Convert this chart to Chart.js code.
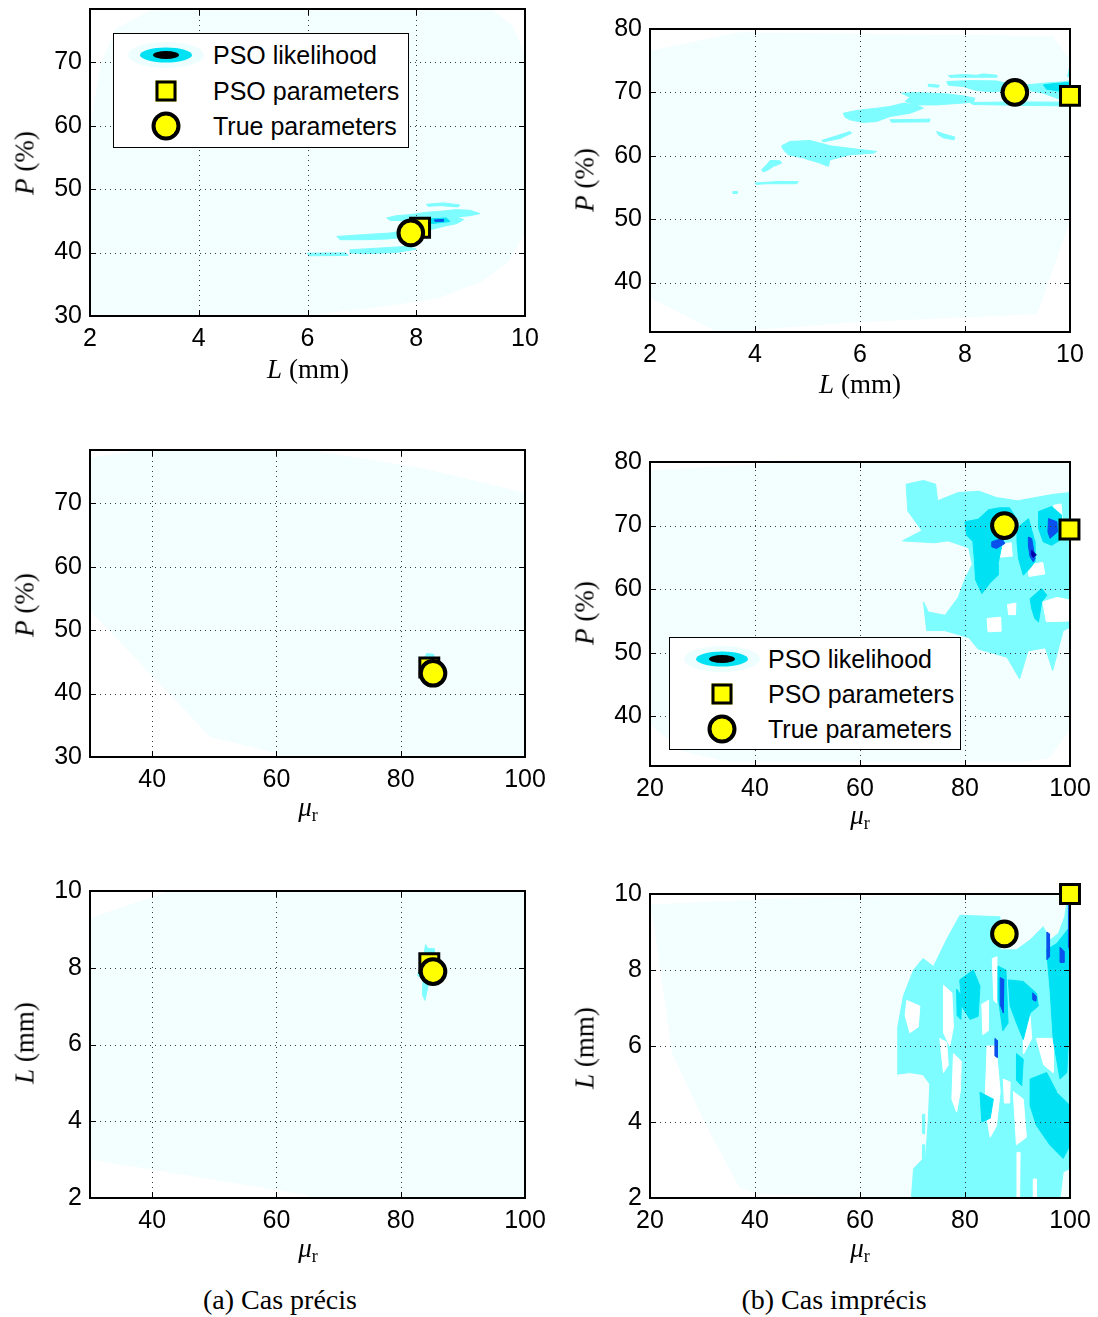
<!DOCTYPE html>
<html><head><meta charset="utf-8">
<script src="https://cdn.jsdelivr.net/npm/chart.js@4.4.1/dist/chart.umd.min.js"></script>
<style>
html,body{margin:0;padding:0;background:#fff;}
body{width:1098px;height:1317px;position:relative;overflow:hidden;font-family:"Liberation Sans",Arial,sans-serif;}
.t{position:absolute;font-family:"Liberation Serif","Times New Roman",serif;font-size:27px;color:#000;white-space:nowrap;transform:translate(-50%,-50%);z-index:4;}
.ty{transform:translate(-50%,-50%) rotate(-90deg);}
.cap{font-size:28px;}
.sub{font-size:18px;position:relative;top:5px;font-style:normal;}
.legbox{position:absolute;box-sizing:border-box;border:1.5px solid #000;background:#fff;z-index:5;}
.lt{position:absolute;font-family:"Liberation Sans",Arial,sans-serif;font-size:25px;color:#000;white-space:nowrap;transform:translateY(-50%);z-index:6;line-height:30px;}
.ls{position:absolute;z-index:6;transform:translate(-50%,-50%);box-sizing:border-box;}
</style>
</head><body>
<script>
// ---------- tick labels ----------
const xTicksL = [2, 4, 6, 8, 10];
const yTicksP1 = [30, 40, 50, 60, 70];
const yTicksP2 = [40, 50, 60, 70, 80];
const xTicksMuA = [40, 60, 80, 100];
const xTicksMuB = [20, 40, 60, 80, 100];
const yTicksL = [2, 4, 6, 8, 10];

// ---------- marker values [x, y] ----------
const p1Pso = [8.07, 43.9],  p1True = [7.9, 43.1];
const p2Pso = [10.0, 69.45], p2True = [8.95, 70.0];
const p3Pso = [84.6, 44.1],  p3True = [85.2, 43.2];
const p4Pso = [99.9, 69.4],  p4True = [87.5, 70.0];
const p5Pso = [84.6, 8.12],  p5True = [85.2, 7.9];
const p6Pso = [100.0, 10.0], p6True = [87.5, 8.95];

// ---------- likelihood contour regions (data coordinates) ----------
const p1Pale = [[[2,30],[5.9,30],[6.6,30.8],[7.6,31.8],[8.44,33.0],[9.2,35.5],[9.67,38.4],[9.96,42.5],[10,43],[10,71],[9.76,75.7],[9.37,78.4],[3.37,78.4],[3.05,77.8],[2.47,75.2],[2.2,69.4],[2.05,62],[2,60]]];
const p1Light = [
 [[7.46,45.46],[7.64,45.82],[7.89,45.98],[8.19,46.35],[8.44,46.5],[8.74,46.77],[8.99,46.66],[9.17,46.14],[8.99,45.82],[8.74,45.61],[8.87,45.19],[8.74,44.56],[8.5,44.13],[8.25,43.6],[8.07,43.34],[7.95,43.87],[8.0,44.67],[7.76,45.03],[7.52,45.08]],
 [[8.19,47.61],[8.5,47.83],[8.8,47.51],[8.77,47.2],[8.44,47.41],[8.22,47.3]],
 [[6.54,42.55],[7.03,42.82],[7.52,43.08],[7.82,43.5],[7.95,43.08],[7.82,42.45],[7.46,42.13],[7.03,42.03],[6.6,42.03]],
 [[6.78,40.44],[7.33,40.71],[7.82,40.97],[8.0,40.55],[7.64,40.02],[7.03,39.81],[6.78,39.92]],
 [[6.0,39.9],[6.7,39.95],[6.75,39.55],[6.02,39.5]]
];
const p1Med = [[[8.25,45.3],[8.55,45.45],[8.62,44.9],[8.3,44.6],[8.15,44.9]]];
const p1Dark = [[[8.33,45.15],[8.5,45.2],[8.5,44.95],[8.35,44.9]]];

const p2Pale = [[[2,37.7],[2,76.5],[3.7,79.4],[9.67,78.8],[10,75],[10,50],[9.37,35.1],[5.9,33.8],[3.3,32.2]]];
const p2Light = [
 [[7.683,72.65],[7.968,72.81],[8.222,72.70],[8.349,72.91],[8.603,72.70],[8.603,72.39],[7.968,72.39],[7.714,72.39]],
 [[7.651,71.71],[8.095,71.86],[8.603,71.81],[8.794,71.44],[8.794,70.39],[8.54,70.08],[8.222,70.29],[7.968,70.92],[7.683,71.13]],
 [[7.302,71.29],[7.511,71.13],[7.492,70.81],[7.314,70.92]],
 [[9.175,71.18],[9.619,71.55],[9.873,71.65],[10.0,71.86],[10.0,68.56],[9.81,68.92],[9.492,69.87],[9.238,70.29]],
 [[8.095,68.4],[8.921,68.5],[10,68.45],[10,67.87],[8.921,67.98],[8.159,68.09]],
 [[6.794,69.87],[7.079,69.97],[7.333,69.87],[7.651,69.76],[7.968,69.45],[8.19,69.08],[8.159,68.45],[7.905,68.29],[7.46,68.03],[7.079,68.03],[6.857,68.56],[6.952,69.24]],
 [[5.683,66.72],[5.937,67.14],[6.317,67.51],[6.571,67.77],[6.825,68.29],[7.079,68.03],[7.206,67.51],[6.952,66.72],[6.571,66.2],[6.317,65.41],[6.063,65.25],[5.81,65.67],[5.714,66.09]],
 [[6.571,65.67],[7.333,65.78],[7.321,65.35],[6.603,65.3]],
 [[5.27,62.41],[5.556,63.15],[5.81,63.83],[5.841,63.57],[5.619,62.73],[5.302,62.2]],
 [[7.46,63.83],[7.587,63.46],[7.81,62.94],[7.79,62.52],[7.587,62.83],[7.492,63.31]],
 [[4.508,61.57],[4.667,62.26],[5.048,62.41],[5.429,61.57],[5.937,61.05],[6.317,60.68],[6.254,60.42],[5.81,60.16],[5.429,59.37],[5.397,58.32],[5.238,58.85],[4.921,59.63],[4.635,60.16],[4.54,60.94]],
 [[4.127,57.79],[4.222,58.58],[4.286,59.26],[4.476,59.21],[4.508,58.85],[4.349,58.32],[4.254,57.79],[4.159,57.43]],
 [[4.0,55.7],[4.476,55.96],[4.825,55.91],[4.794,55.59],[4.222,55.59],[4.02,55.49]],
 [[3.58,54.35],[3.66,54.35],[3.66,54.05],[3.58,54.05]],
 [[9.95,72.49],[9.99,73.8],[10,74.49],[10,72.49]]
];
const p2Med = [[[9.492,71.18],[9.746,71.44],[10,71.55],[10,70.13],[9.873,70.13],[9.556,70.5]]];

const p3Pale = [[[30,53.2],[30,77.1],[39.2,78.4],[64.6,78.4],[83.2,75.5],[100,71.6],[100,30],[60.5,30],[59.5,30.8],[49.4,33.2],[39.2,43.7]]];
const p3Light = [[[83.6,45.3],[84.2,46.3],[85.2,46.2],[85.3,44.5],[84,43.0],[83.6,43.9]]];

const p4Pale = [[[20,38.8],[20,78.6],[47.5,79.9],[100,79.9],[100,38],[96,33.5],[92,33.0],[34.2,33.0],[26.2,34.6]]];
const p4Light = [[[68.1,67.6],[71.8,69.2],[69.1,72.3],[68.8,76.5],[72.1,77.1],[74.4,76.5],[74.8,73.9],[78.7,75.2],[82.7,75.4],[86.0,74.4],[90.0,73.9],[93.4,74.4],[96.7,74.9],[100,75.2],[100,54.0],[98.7,53.5],[96.7,47.2],[95.3,50.8],[92.0,50.3],[90.4,45.9],[88.0,49.3],[82.5,50.6],[80.7,52.4],[76.1,53.5],[72.7,53.5],[72.1,58.0],[73.0,56.4],[76.2,55.9],[78.7,58.7],[80.1,61.8],[81.4,63.9],[80.7,66.5],[76.8,67.6],[74.1,67.3]]];
const p4Holes = [
 [[85.9,67.0],[88.8,67.3],[89.0,65.2],[86.0,65.0]],
 [[91.9,63.8],[94.8,64.2],[95.2,62.4],[92.2,62.0]],
 [[94.8,58.0],[97.5,58.7],[100,58.3],[100,55.0],[95.5,54.9]],
 [[84.2,55.4],[86.8,55.6],[86.9,53.4],[84.4,53.3]],
 [[88.1,57.6],[89.7,57.8],[89.6,56.0],[88.3,56.0]],
 [[96.9,73.2],[98.3,73.4],[98.5,71.2],[97.1,71.0]]
];
const p4Med = [
 [[80.0,70.6],[82.5,71.0],[84.5,72.5],[86.5,72.8],[88.5,72.8],[89.5,71.5],[88.6,68.5],[87.2,67.6],[86.3,64.0],[86.3,62.2],[84.8,61.0],[83.2,59.3],[82.0,61.5],[81.8,64.5],[81.5,67.5],[80.3,68.5]],
 [[89.9,69.6],[92.1,71.1],[93.3,67.5],[93.3,64.3],[92.4,63.3],[91.1,62.2],[90.2,64.8],[89.9,67.5]],
 [[94.0,72.2],[96.5,73.0],[98.4,71.65],[98.1,67.7],[96.5,66.9],[94.9,67.45],[94.0,69.55]],
 [[92.4,58.5],[94.6,60.1],[95.6,59.05],[94.6,58.0],[94.0,54.85],[93.3,55.4],[92.7,56.95]]
];
const p4Dark = [
 [[85.1,67.45],[87.0,67.97],[87.6,67.2],[86.0,66.4],[85.1,66.66]],
 [[92.07,68.2],[92.7,67.97],[93.34,64.8],[93.0,64.3],[92.4,65.1],[92.07,66.9]],
 [[95.9,71.1],[97.5,70.6],[97.6,69.0],[96.2,68.0],[95.8,69.0]]
];
const p4Darkest = [[[92.7,66.1],[93.6,65.4],[93.0,65.0],[92.6,65.5]]];

const p5Pale = [[[30,3.02],[30,9.28],[43.1,10],[100,10],[100,2],[66.3,2],[64.6,2.1]]];
const p5Light = [[[83.6,8.2],[84.0,8.6],[84.4,8.5],[85.4,8.5],[85.6,8.0],[84.5,7.6],[83.9,7.15],[83.5,7.3],[83.6,7.7],[82.7,7.8]]];

const p6Pale = [[[20,9.71],[47.5,9.89],[100,10],[100,2],[58.8,2.0],[40.9,2.13],[37.2,2.26],[30.9,3.88],[24.3,5.81],[20.9,9.14]]];
const p6Light = [
 [[69.8,2.0],[70.2,2.77],[72.5,3.1],[73.0,4.0],[73.3,5.0],[72.0,5.25],[69.5,5.3],[67.1,5.26],[67.2,6.5],[68.25,7.31],[70.2,8.0],[72.0,8.3],[74.0,8.09],[76.5,8.8],[79.04,9.44],[86.66,9.4],[86.7,8.53],[89.8,8.53],[92.4,8.79],[94.9,9.14],[96.2,8.79],[97.8,8.96],[99.0,9.4],[99.6,9.95],[100,10],[100,2.77],[98.7,2.69],[98.1,2.0]],
 [[71.9,4.2],[72.3,4.2],[72.3,3.7],[71.9,3.7]],
 [[71.9,3.4],[72.3,3.4],[72.3,3.0],[71.9,3.0]]
];
const p6Holes = [
 [[68.9,7.2],[71.4,7.05],[71.1,6.5],[69.5,6.35],[68.6,6.8]],
 [[75.9,7.6],[77.5,7.4],[77.8,6.5],[77.1,6.0],[75.9,6.35]],
 [[75.2,6.2],[76.5,6.1],[76.8,5.5],[75.9,5.3]],
 [[77.8,5.8],[79.3,5.6],[79.1,4.8],[78.4,4.26],[77.5,4.6]],
 [[83.2,7.1],[84.5,7.2],[84.4,6.4],[83.4,6.3]],
 [[84.2,6.0],[85.9,6.0],[86.7,4.8],[86.0,3.9],[84.8,3.6],[83.8,4.4]],
 [[87.3,5.13],[88.6,5.05],[88.5,4.5],[87.5,4.5]],
 [[91.1,6.7],[92.4,6.8],[92.7,6.2],[91.2,5.8]],
 [[93.6,6.2],[96.8,6.2],[96.8,5.3],[95.0,5.5]],
 [[89.2,4.8],[91.1,4.6],[91.7,3.6],[89.8,3.4]],
 [[89.9,3.2],[90.5,3.2],[90.4,2.0],[89.8,2.0]],
 [[93.0,2.5],[93.6,2.5],[93.6,2.0],[93.0,2.0]],
 [[97.5,4.8],[98.7,4.6],[98.7,3.8],[97.8,3.6]],
 [[85.2,8.3],[86.1,8.35],[86.0,7.13],[85.5,7.2]]
];
const p6Med = [
 [[79.0,7.74],[81.6,8.0],[82.85,7.57],[82.5,6.78],[80.95,6.7],[79.4,7.05]],
 [[86.3,8.1],[87.8,8.0],[88.2,6.6],[87.2,6.4],[86.4,7.2]],
 [[88.25,7.74],[91.1,7.7],[93.6,7.39],[93.97,7.05],[92.4,6.87],[91.1,6.17],[89.8,6.61],[88.6,7.05]],
 [[95.55,8.53],[97.5,8.7],[100,9.14],[100,7.05],[99.4,5.3],[98.1,5.13],[96.8,6.17],[96.2,7.48]],
 [[92.4,5.13],[95.55,5.3],[97.5,4.78],[100,4.43],[100,3.39],[98.7,3.04],[96.2,3.39],[93.6,3.91],[92.4,4.43]],
 [[82.85,4.78],[85.4,4.6],[84.8,4.1],[83.2,4.0]],
 [[89.8,5.8],[91.1,5.65],[90.8,4.95],[89.8,5.1]],
 [[78.4,7.5],[79.4,7.3],[79.2,6.7],[78.5,6.8]]
];
const p6Dark = [
 [[95.6,9.0],[96.1,8.95],[96.1,8.35],[95.6,8.27]],
 [[98.1,8.6],[98.8,8.5],[98.85,8.2],[98.2,8.2]],
 [[86.7,7.8],[87.4,7.75],[87.3,6.87],[86.8,7.05]],
 [[92.9,7.4],[93.6,7.3],[93.5,7.18],[92.9,7.22]],
 [[85.7,6.2],[86.1,6.15],[86.15,5.7],[85.7,5.74]],
 [[99.7,10],[100,10],[100,8.4],[99.8,8.6]]
];

// ---------- styling ----------
const COL = {pale:'#F3FEFF', light:'#7DFDFF', hole:'#FFFFFF', med:'#00E2F4', dark:'#0A50EC', darkest:'#0000A8'};
const PAD = {l:100, t:25, r:40, b:45};
const TICKFONT = {family:'"Liberation Sans", Arial, sans-serif', size:25};

const axesPlugin = {
  id: 'matlabAxes',
  beforeDatasetDraw(chart, args) {
    if (chart.data.datasets[args.index].label !== 'PSO parameters') return;
    const {ctx, chartArea: a, scales: {x, y}} = chart;
    ctx.save();
    ctx.strokeStyle = '#3a3a3a'; ctx.lineWidth = 1; ctx.setLineDash([1, 4]);
    x.ticks.forEach(t => {
      const px = Math.round(x.getPixelForValue(t.value)) + 0.5;
      if (px < a.left + 2 || px > a.right - 2) return;
      ctx.beginPath(); ctx.moveTo(px, a.bottom); ctx.lineTo(px, a.top); ctx.stroke();
    });
    y.ticks.forEach(t => {
      const py = Math.round(y.getPixelForValue(t.value)) + 0.5;
      if (py < a.top + 2 || py > a.bottom - 2) return;
      ctx.beginPath(); ctx.moveTo(a.left, py); ctx.lineTo(a.right, py); ctx.stroke();
    });
    ctx.setLineDash([]);
    ctx.strokeStyle = '#000'; ctx.lineWidth = 1;
    x.ticks.forEach(t => {
      const px = Math.round(x.getPixelForValue(t.value)) + 0.5;
      ctx.beginPath(); ctx.moveTo(px, a.bottom); ctx.lineTo(px, a.bottom - 6);
      ctx.moveTo(px, a.top); ctx.lineTo(px, a.top + 6); ctx.stroke();
    });
    y.ticks.forEach(t => {
      const py = Math.round(y.getPixelForValue(t.value)) + 0.5;
      ctx.beginPath(); ctx.moveTo(a.left, py); ctx.lineTo(a.left + 6, py);
      ctx.moveTo(a.right, py); ctx.lineTo(a.right - 6, py); ctx.stroke();
    });
    ctx.lineWidth = 2;
    ctx.strokeRect(a.left, a.top, a.right - a.left, a.bottom - a.top);
    ctx.restore();
  }
};

function buildPanel(p) {
  const [L, T, R, B] = p.area;
  const cv = document.createElement('canvas');
  const w = R - L + PAD.l + PAD.r, h = B - T + PAD.t + PAD.b;
  cv.width = w; cv.height = h;
  cv.style.cssText = `position:absolute;left:${L - PAD.l}px;top:${T - PAD.t}px;width:${w}px;height:${h}px;z-index:1;`;
  document.body.appendChild(cv);
  const ds = [];
  let ord = 1000;
  p.layers.forEach(([polys, color]) => polys.forEach(poly => {
    const pts = poly.concat([poly[0]]).map(q => ({x: q[0], y: q[1]}));
    ds.push({type: 'line', label: 'contour', data: pts, showLine: true, fill: 'shape',
      backgroundColor: color, borderColor: color, borderWidth: 1, pointRadius: 0,
      pointHoverRadius: 0, tension: 0, order: ord--});
  }));
  ds.push({type: 'scatter', label: 'PSO parameters', data: [{x: p.pso[0], y: p.pso[1]}],
    pointStyle: 'rect', pointRadius: 13.4, borderWidth: 3, borderColor: '#000',
    backgroundColor: '#FFFF00', clip: false, order: 1});
  ds.push({type: 'scatter', label: 'True parameters', data: [{x: p.truth[0], y: p.truth[1]}],
    pointStyle: 'circle', pointRadius: 12.3, borderWidth: 4, borderColor: '#000',
    backgroundColor: '#FFFF00', clip: false, order: 0});
  const axis = (range, ticks, isX) => ({
    type: 'linear', min: range[0], max: range[1],
    afterBuildTicks: s => { s.ticks = ticks.map(v => ({value: v})); },
    afterFit: s => { if (isX) s.height = PAD.b; else s.width = PAD.l; },
    grid: {display: false, drawTicks: false},
    border: {display: false},
    ticks: {color: '#000', font: TICKFONT, padding: 8, maxRotation: 0, autoSkip: false}
  });
  new Chart(cv, {
    type: 'scatter',
    data: {datasets: ds},
    options: {
      responsive: false, animation: false, events: [], devicePixelRatio: 1,
      layout: {padding: {top: PAD.t, right: PAD.r, left: 0, bottom: 0}},
      plugins: {legend: {display: false}, tooltip: {enabled: false}},
      scales: {x: axis(p.xr, p.xt, true), y: axis(p.yr, p.yt, false)}
    },
    plugins: [axesPlugin]
  });
}

buildPanel({area: [90, 9, 525, 316], xr: [2, 10], yr: [30, 78.4], xt: xTicksL, yt: yTicksP1,
  layers: [[p1Pale, COL.pale], [p1Light, COL.light], [p1Med, COL.med], [p1Dark, COL.dark]], pso: p1Pso, truth: p1True});
buildPanel({area: [650, 29, 1070, 332], xr: [2, 10], yr: [32.2, 80], xt: xTicksL, yt: yTicksP2,
  layers: [[p2Pale, COL.pale], [p2Light, COL.light], [p2Med, COL.med]], pso: p2Pso, truth: p2True});
buildPanel({area: [90, 450, 525, 757], xr: [30, 100], yr: [30, 78.4], xt: xTicksMuA, yt: yTicksP1,
  layers: [[p3Pale, COL.pale], [p3Light, COL.light]], pso: p3Pso, truth: p3True});
buildPanel({area: [650, 462, 1070, 766], xr: [20, 100], yr: [32.2, 80], xt: xTicksMuB, yt: yTicksP2,
  layers: [[p4Pale, COL.pale], [p4Light, COL.light], [p4Holes, COL.hole], [p4Med, COL.med], [p4Dark, COL.dark], [p4Darkest, COL.darkest]], pso: p4Pso, truth: p4True});
buildPanel({area: [90, 891, 525, 1198], xr: [30, 100], yr: [2, 10], xt: xTicksMuA, yt: yTicksL,
  layers: [[p5Pale, COL.pale], [p5Light, COL.light]], pso: p5Pso, truth: p5True});
buildPanel({area: [650, 894, 1070, 1198], xr: [20, 100], yr: [2, 10], xt: xTicksMuB, yt: yTicksL,
  layers: [[p6Pale, COL.pale], [p6Light, COL.light], [p6Holes, COL.hole], [p6Med, COL.med], [p6Dark, COL.dark]], pso: p6Pso, truth: p6True});

// ---------- text: axis titles, captions ----------
function txt(html, x, y, cls) {
  const d = document.createElement('div');
  d.className = 't ' + (cls || '');
  d.style.left = x + 'px'; d.style.top = y + 'px';
  d.innerHTML = html;
  document.body.appendChild(d);
}
const LMM = '<i>L</i> (mm)', PPC = '<i>P</i> (%)', MUR = '<i>μ</i><span class="sub">r</span>';
txt(LMM, 308, 369); txt(PPC, 25, 163, 'ty');
txt(LMM, 860, 384); txt(PPC, 585, 180, 'ty');
txt(MUR, 308, 807); txt(PPC, 25, 605, 'ty');
txt(MUR, 860, 815); txt(PPC, 585, 613, 'ty');
txt(MUR, 308, 1248); txt(LMM, 25, 1043, 'ty');
txt(MUR, 860, 1248); txt(LMM, 585, 1048, 'ty');
txt('(a) Cas précis', 280, 1300, 'cap');
txt('(b) Cas imprécis', 834, 1300, 'cap');

// ---------- legends ----------
const legendLabels = ['PSO likelihood', 'PSO parameters', 'True parameters'];
function el(cls, css, html) {
  const d = document.createElement('div');
  d.className = cls; d.style.cssText = css; if (html) d.textContent = html;
  document.body.appendChild(d); return d;
}
function legend(box, symX, textX, rows) {
  el('legbox', `left:${box[0]}px;top:${box[1]}px;width:${box[2]}px;height:${box[3]}px;`);
  el('ls', `left:${symX}px;top:${rows[0]}px;width:76px;height:26px;border-radius:50%;background:#EEFEFE;`);
  el('ls', `left:${symX}px;top:${rows[0]}px;width:52px;height:15px;border-radius:50%;background:${COL.med};`);
  el('ls', `left:${symX}px;top:${rows[0]}px;width:26px;height:8px;border-radius:50%;background:#000;`);
  el('ls', `left:${symX}px;top:${rows[1]}px;width:21px;height:21px;border:3px solid #000;background:#FFFF00;`);
  el('ls', `left:${symX}px;top:${rows[2]}px;width:29px;height:29px;border:4px solid #000;border-radius:50%;background:#FFFF00;`);
  legendLabels.forEach((s, i) => el('lt', `left:${textX}px;top:${rows[i]}px;`, s));
}
legend([113, 33, 296, 115], 166, 213, [55, 91, 126]);
legend([669, 637, 292, 113], 722, 768, [659, 694, 729]);
</script>
</body></html>
